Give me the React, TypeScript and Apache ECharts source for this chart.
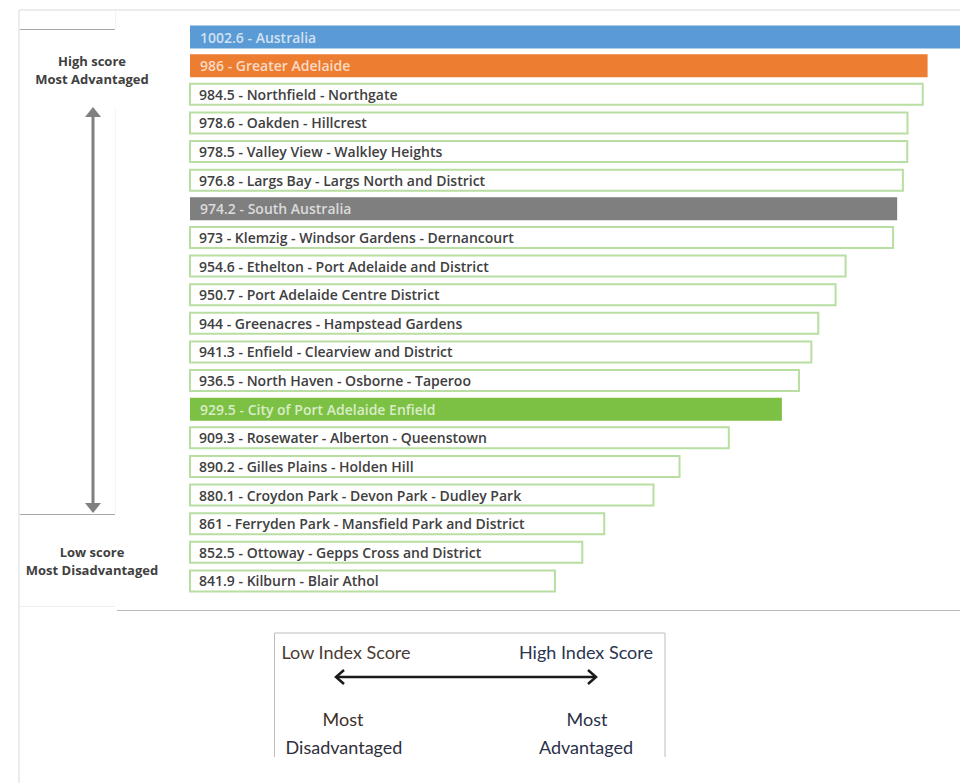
import React, { useEffect, useRef } from "react";
import * as echarts from "echarts";

const categories = [
  "Australia",
  "Greater Adelaide",
  "Northfield - Northgate",
  "Oakden - Hillcrest",
  "Valley View - Walkley Heights",
  "Largs Bay - Largs North and District",
  "South Australia",
  "Klemzig - Windsor Gardens - Dernancourt",
  "Ethelton - Port Adelaide and District",
  "Port Adelaide Centre District",
  "Greenacres - Hampstead Gardens",
  "Enfield - Clearview and District",
  "North Haven - Osborne - Taperoo",
  "City of Port Adelaide Enfield",
  "Rosewater - Alberton - Queenstown",
  "Gilles Plains - Holden Hill",
  "Croydon Park - Devon Park - Dudley Park",
  "Ferryden Park - Mansfield Park and District",
  "Ottoway - Gepps Cross and District",
  "Kilburn - Blair Athol",
];

const values = [
  1002.6, 986, 984.5, 978.6, 978.5, 976.8, 974.2, 973, 954.6, 950.7, 944, 941.3,
  936.5, 929.5, 909.3, 890.2, 880.1, 861, 852.5, 841.9,
];

const highlightNames = ["Australia", "Greater Adelaide", "South Australia", "City of Port Adelaide Enfield"];
const highlightColors = ["#5b9bd5", "#ed7d31", "#7f7f7f", "#7cc143"];

const leftTopLabels = ["High score", "Most Advantaged"];
const leftBottomLabels = ["Low score", "Most Disadvantaged"];

export default function App() {
  const ref = useRef<HTMLDivElement>(null);

  useEffect(() => {
    if (!ref.current) return;
    const chart = echarts.init(ref.current, null, { renderer: "svg" });

    const data = values.map((v, i) => {
      const name = categories[i];
      const hi = highlightNames.indexOf(name);
      if (hi >= 0) {
        return {
          value: v,
          itemStyle: { color: highlightColors[hi], borderWidth: 0 },
          label: { color: "rgba(255,255,255,0.72)" },
        };
      }
      return {
        value: v,
        itemStyle: { color: "#ffffff", borderColor: "#b9dea1", borderWidth: 2 },
        label: { color: "#404040" },
      };
    });

    const gray = "#808080";
    const textStyleSmall = {
      fontFamily: "Open Sans",
      fontSize: 13,
      fontWeight: "bold",
      fill: "#404040",
      textAlign: "center",
      textVerticalAlign: "middle",
    };
    const legendFont = {
      fontFamily: "Lato",
      fontSize: 18,
      textAlign: "center",
      textVerticalAlign: "middle",
    };

    chart.setOption({
      animation: false,
      grid: {
        left: 190,
        top: 22.7,
        width: 799.5,
        height: 572.6,
        containLabel: false,
        outerBoundsMode: "none",
      },
      xAxis: { type: "value", min: 700, max: 1010, show: false },
      yAxis: { type: "category", data: categories, inverse: true, show: false },
      series: [
        {
          type: "bar",
          data,
          barWidth: 23,
          label: {
            show: true,
            position: "insideLeft",
            distance: 10,
            fontFamily: "Open Sans",
            fontSize: 14,
            fontWeight: 600,
            formatter: (p: any) => `${values[p.dataIndex]} - ${categories[p.dataIndex]}`,
          },
        },
      ],
      graphic: [
        // outer frame
        { type: "line", shape: { x1: 19, y1: 10, x2: 960, y2: 10 }, style: { stroke: "#e6e6e6", lineWidth: 1.5 } },
        { type: "line", shape: { x1: 19, y1: 10, x2: 19, y2: 783 }, style: { stroke: "#e6e6e6", lineWidth: 1.5 } },
        // left panel lines
        { type: "line", shape: { x1: 20, y1: 29.5, x2: 115, y2: 29.5 }, style: { stroke: "#a8a8a8", lineWidth: 1 } },
        { type: "line", shape: { x1: 115.5, y1: 11, x2: 115.5, y2: 29 }, style: { stroke: "#f2f2f2", lineWidth: 1 } },
        { type: "line", shape: { x1: 115.5, y1: 108, x2: 115.5, y2: 514 }, style: { stroke: "#f4f4f4", lineWidth: 1 } },
        { type: "line", shape: { x1: 20, y1: 514.5, x2: 115, y2: 514.5 }, style: { stroke: "#a8a8a8", lineWidth: 1 } },
        { type: "line", shape: { x1: 20, y1: 606.5, x2: 115, y2: 606.5 }, style: { stroke: "#efefef", lineWidth: 1 } },
        { type: "line", shape: { x1: 117, y1: 610.5, x2: 960, y2: 610.5 }, style: { stroke: "#b8b8b8", lineWidth: 1 } },
        // vertical double arrow
        { type: "line", shape: { x1: 93, y1: 114, x2: 93, y2: 506 }, style: { stroke: gray, lineWidth: 3 } },
        { type: "polygon", shape: { points: [[93, 107], [85, 117], [101, 117]] }, style: { fill: gray } },
        { type: "polygon", shape: { points: [[93, 513], [85, 503], [101, 503]] }, style: { fill: gray } },
        // left texts
        { type: "text", x: 92, y: 61, style: { ...textStyleSmall, text: leftTopLabels[0] } },
        { type: "text", x: 92, y: 79, style: { ...textStyleSmall, text: leftTopLabels[1] } },
        { type: "text", x: 92, y: 552, style: { ...textStyleSmall, text: leftBottomLabels[0] } },
        { type: "text", x: 92, y: 570, style: { ...textStyleSmall, text: leftBottomLabels[1] } },
        // bottom legend box
        { type: "line", shape: { x1: 274.5, y1: 633, x2: 665, y2: 633 }, style: { stroke: "#bdbdbd", lineWidth: 1 } },
        { type: "line", shape: { x1: 274.5, y1: 633, x2: 274.5, y2: 757 }, style: { stroke: "#bdbdbd", lineWidth: 1 } },
        { type: "line", shape: { x1: 665, y1: 633, x2: 665, y2: 757 }, style: { stroke: "#bdbdbd", lineWidth: 1 } },
        // horizontal double arrow
        { type: "line", shape: { x1: 336, y1: 677, x2: 596, y2: 677 }, style: { stroke: "#1a1a1a", lineWidth: 2.5 } },
        { type: "polyline", shape: { points: [[344, 670], [336, 677], [344, 684]] }, style: { stroke: "#1a1a1a", lineWidth: 2.5, fill: null } },
        { type: "polyline", shape: { points: [[588, 670], [596, 677], [588, 684]] }, style: { stroke: "#1a1a1a", lineWidth: 2.5, fill: null } },
        // legend texts
        { type: "text", x: 346, y: 652, style: { ...legendFont, text: "Low Index Score", fill: "#4a3b33" } },
        { type: "text", x: 586, y: 652, style: { ...legendFont, text: "High Index Score", fill: "#2a3550" } },
        { type: "text", x: 343, y: 719, style: { ...legendFont, text: "Most", fill: "#3d2f28" } },
        { type: "text", x: 344, y: 747, style: { ...legendFont, text: "Disadvantaged", fill: "#2f2f3a" } },
        { type: "text", x: 587, y: 719, style: { ...legendFont, text: "Most", fill: "#2a3048" } },
        { type: "text", x: 586, y: 747, style: { ...legendFont, text: "Advantaged", fill: "#2a3048" } },
      ],
    });

    return () => chart.dispose();
  }, []);

  return (
    <div
      ref={ref}
      style={{ position: "absolute", left: 0, top: 0, width: 960, height: 783, background: "#ffffff" }}
    />
  );
}
